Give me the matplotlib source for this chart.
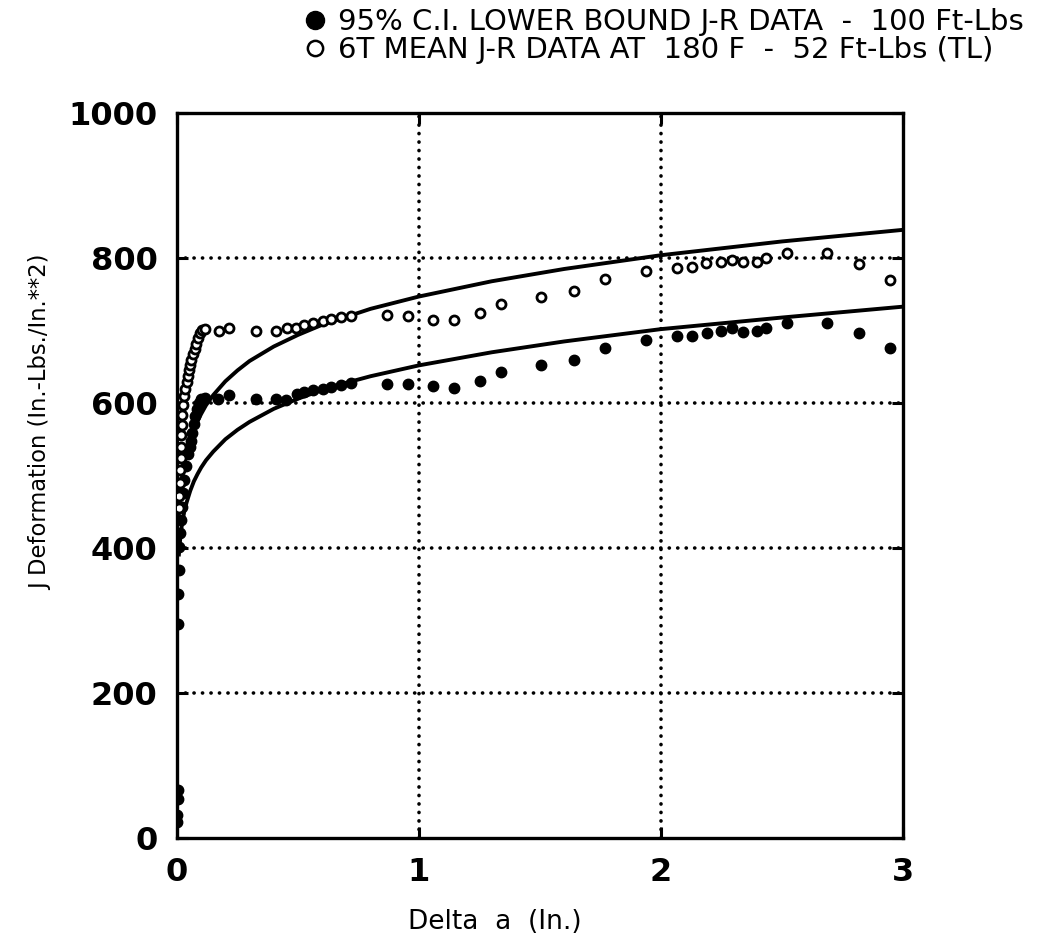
import numpy as np
import matplotlib.pyplot as plt
from matplotlib.lines import Line2D

plt.rcParams['font.family'] = ['DejaVu Sans']

# 95% C.I. lower bound J-R data (filled circles)
a_lower = [0.002, 0.002, 0.003, 0.003, 0.005, 0.006, 0.008, 0.010, 0.013, 0.016,
           0.020, 0.025, 0.031, 0.038, 0.045, 0.052, 0.058, 0.064, 0.070, 0.076,
           0.082, 0.090, 0.100, 0.116, 0.171, 0.216, 0.326, 0.409, 0.450, 0.494,
           0.525, 0.563, 0.602, 0.635, 0.676, 0.719, 0.866, 0.956, 1.059, 1.145,
           1.252, 1.337, 1.503, 1.640, 1.769, 1.938, 2.067, 2.127, 2.189, 2.247,
           2.292, 2.340, 2.395, 2.434, 2.522, 2.685, 2.819, 2.946]
j_lower = [22, 32, 53, 66, 295, 337, 370, 402, 421, 439,
           457, 476, 494, 513, 530, 540, 548, 559, 571, 582,
           592, 600, 605, 607, 605, 611, 606, 606, 604, 612,
           615, 618, 620, 622, 625, 628, 626, 626, 623, 621,
           630, 643, 652, 660, 676, 687, 693, 693, 697, 699,
           703, 698, 700, 704, 711, 710, 696, 676]

# 6T mean J-R data at 180 F (open circles)
a_mean = [0.008, 0.010, 0.012, 0.014, 0.016, 0.017, 0.018, 0.020, 0.022, 0.026,
          0.030, 0.035, 0.040, 0.044, 0.049, 0.054, 0.060, 0.067, 0.073, 0.080,
          0.087, 0.095, 0.105, 0.115, 0.175, 0.214, 0.326, 0.409, 0.453, 0.492,
          0.525, 0.563, 0.602, 0.635, 0.676, 0.719, 0.866, 0.956, 1.059, 1.145,
          1.252, 1.337, 1.503, 1.640, 1.769, 1.938, 2.065, 2.127, 2.186, 2.247,
          2.292, 2.338, 2.395, 2.434, 2.522, 2.685, 2.819, 2.946]
j_mean = [455, 472, 490, 508, 524, 540, 556, 570, 584, 597,
          610, 620, 629, 637, 645, 652, 660, 667, 674, 682,
          690, 697, 701, 702, 700, 704, 700, 700, 703, 704,
          707, 711, 713, 716, 719, 720, 721, 720, 715, 715,
          724, 737, 746, 755, 771, 782, 787, 788, 793, 794,
          797, 794, 794, 800, 807, 807, 792, 770]

# fitted J-R curves, read along their length
a_fit = [0.008, 0.01, 0.015, 0.02, 0.03, 0.04, 0.055, 0.07, 0.085, 0.1,
         0.12, 0.15, 0.2, 0.25, 0.3, 0.35, 0.4, 0.45, 0.5, 0.6,
         0.7, 0.8, 1.0, 1.3, 1.6, 2.0, 2.5, 3.0]
j_fit_upper = [448, 458, 479, 493, 515, 531, 549, 564, 575, 585,
               597, 611, 630, 645, 658, 668, 678, 686, 694, 708,
               719, 730, 747, 768, 785, 804, 823, 839]
j_fit_lower = [391, 400, 418, 431, 450, 463, 479, 492, 502, 511,
               521, 533, 550, 563, 574, 583, 592, 599, 606, 618,
               628, 637, 652, 670, 685, 702, 718, 733]

x_ticks = [0, 1, 2, 3]
y_ticks = [0, 200, 400, 600, 800, 1000]

fig = plt.figure(figsize=(10.44, 9.51), dpi=100)
ax = fig.add_axes([0.1695, 0.119, 0.6955, 0.762])

# dotted grid
dot_style = dict(color='black', linewidth=2.6, linestyle=(0, (0.05, 2.3)),
                 dash_capstyle='round', zorder=1)
for x in x_ticks[1:-1]:
    ax.axvline(x, **dot_style)
for y in y_ticks[1:-1]:
    ax.axhline(y, **dot_style)

ax.plot(a_fit, j_fit_upper, color='black', linewidth=2.8, zorder=2)
ax.plot(a_fit, j_fit_lower, color='black', linewidth=2.8, zorder=2)

ax.plot(a_lower, j_lower, linestyle='none', marker='o', markersize=7.5,
        markerfacecolor='black', markeredgecolor='black', zorder=3)
ax.plot(a_mean, j_mean, linestyle='none', marker='o', markersize=6.5,
        markerfacecolor='white', markeredgecolor='black', markeredgewidth=2.0,
        zorder=4)

ax.set_xlim(0, 3)
ax.set_ylim(0, 1000)
ax.set_xticks(x_ticks)
ax.set_yticks(y_ticks)
ax.tick_params(direction='in', length=8, width=2.2, top=True, right=True,
               labelsize=23, pad=14)
for lab in ax.get_xticklabels() + ax.get_yticklabels():
    lab.set_fontweight('bold')
for sp in ax.spines.values():
    sp.set_linewidth(2.4)

ax.set_xlabel('Delta  a  (In.)', fontsize=19)
ax.xaxis.set_label_coords(0.438, -0.098)
ax.set_ylabel('J Deformation (In.-Lbs./In.**2)', fontsize=16.3)
ax.yaxis.set_label_coords(-0.172, 0.574)

handles = [
    Line2D([], [], linestyle='none', marker='o', markersize=13,
           markerfacecolor='black', markeredgecolor='black'),
    Line2D([], [], linestyle='none', marker='o', markersize=11,
           markerfacecolor='white', markeredgecolor='black', markeredgewidth=1.8),
]
labels = ['95% C.I. LOWER BOUND J-R DATA  -  100 Ft-Lbs',
          '6T MEAN J-R DATA AT  180 F  -  52 Ft-Lbs (TL)']
fig.legend(handles, labels, loc='upper right', bbox_to_anchor=(0.992, 1.004),
           frameon=False, fontsize=21, handletextpad=0.3, handlelength=1.0,
           labelspacing=0.0, borderaxespad=0)

fig.savefig('out.png', dpi=100)
